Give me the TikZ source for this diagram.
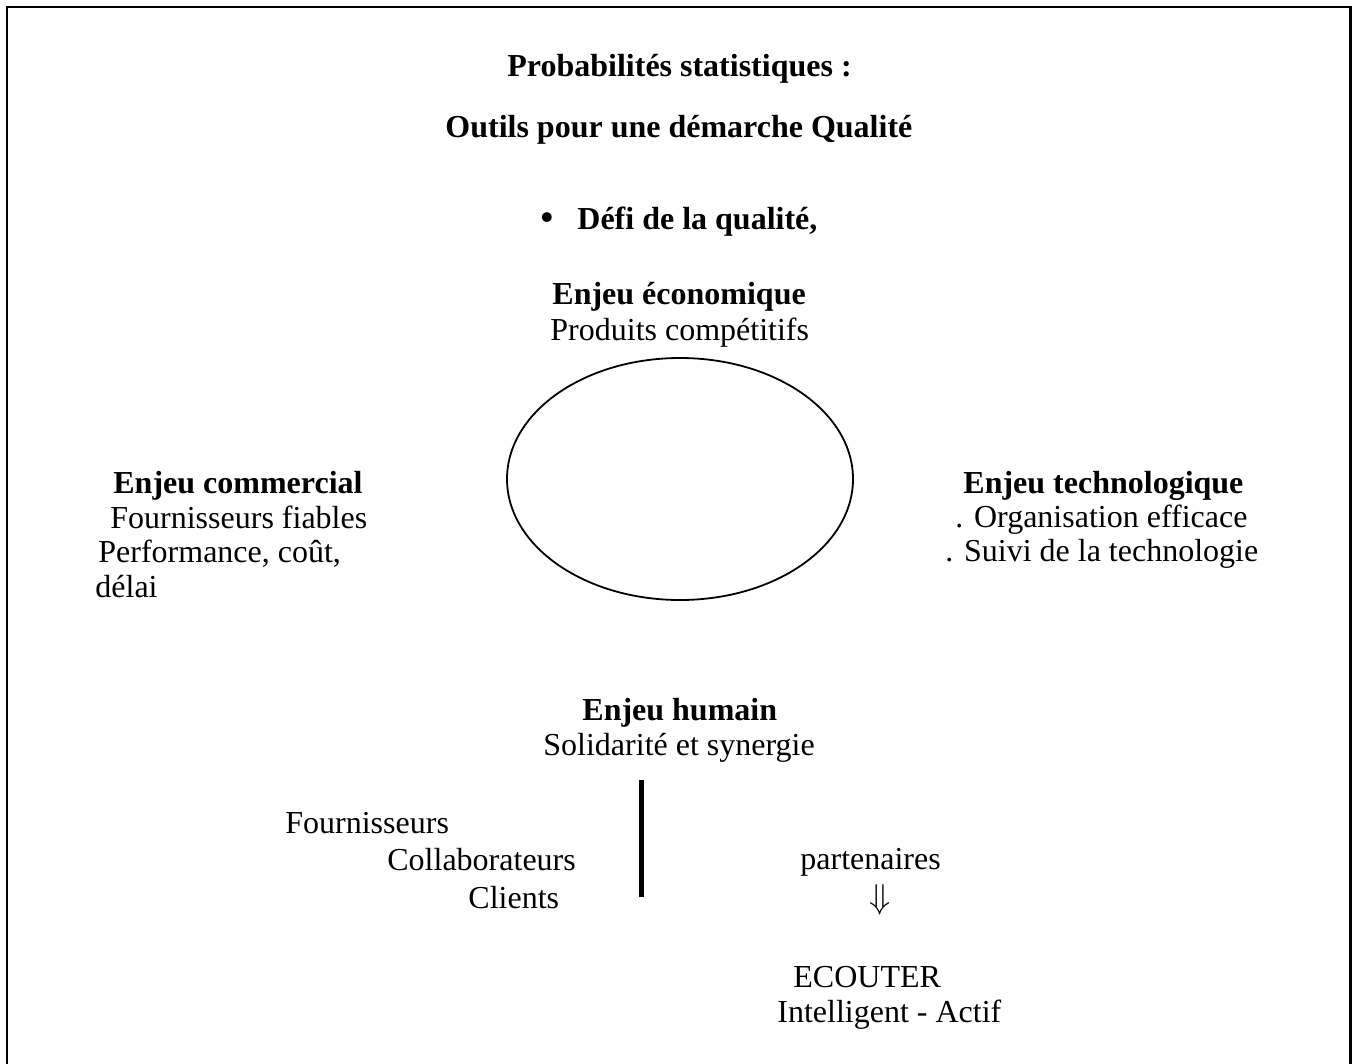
\documentclass[tikz,border=0pt]{standalone}
\usepackage{fontspec}
\setmainfont{Liberation Serif}
\begin{document}
\begin{tikzpicture}[x=0.5pt,y=-0.5pt,
  txt/.style={inner sep=0pt,anchor=base west,font=\fontsize{16pt}{18pt}\selectfont},
  head/.style={txt,font=\fontsize{16pt}{18pt}\selectfont\bfseries}]
\useasboundingbox (0,0) rectangle (1354,1064);
% outer frame (open at the bottom edge of the page)
\draw[line width=1.25pt] (7,1064) -- (7,7) -- (1350.5,7) -- (1350.5,1064);

% titles
\node[head] (title) at (507,77) {Probabilités statistiques :};
\node[head] (subtitle) at (445,138) {Outils pour une démarche Qualité};
\node[txt,anchor=base,font=\fontsize{18pt}{18pt}\selectfont\bfseries] (bullet) at (547,230) {•};
\node[head] (defi) at (577,230) {Défi de la qualité,};

% central ellipse
\draw[line width=0.9pt] (680,479) ellipse [x radius=173, y radius=121];

% the four stakes
\node[head] (eco) at (552,304) {Enjeu économique};
\node[txt] (eco1) at (550,340) {Produits compétitifs};

\node[head] (com) at (113,493) {Enjeu commercial};
\node[txt] (com1) at (110,528) {Fournisseurs fiables};
\node[txt] (com2) at (98,562) {Performance, coût,};
\node[txt] (com3) at (95,597) {délai};

\node[head] (tech) at (963,493) {Enjeu technologique};
\node[txt] (tech1) at (955,527) {. Organisation efficace};
\node[txt] (tech2) at (945,561) {. Suivi de la technologie};

\node[head] (hum) at (582,720) {Enjeu humain};
\node[txt] (hum1) at (543,755) {Solidarité et synergie};

% separator bar
\coordinate (barTop) at (641.5,780);
\coordinate (barBot) at (641.5,897);
\draw[line width=2.5pt] (barTop) -- (barBot);

\node[txt] (four) at (285,833) {Fournisseurs};
\node[txt] (coll) at (387,870) {Collaborateurs};
\node[txt] (cli) at (468,908) {Clients};

\node[txt] (part) at (800,869) {partenaires};
\node[inner sep=0pt] (arr) at (880,900) {\fontsize{16pt}{18pt}\selectfont$\Downarrow$};
\node[txt] (ecout) at (793,987) {ECOUTER};
\node[txt] (intel) at (777,1022) {Intelligent - Actif};
\end{tikzpicture}
\end{document}
